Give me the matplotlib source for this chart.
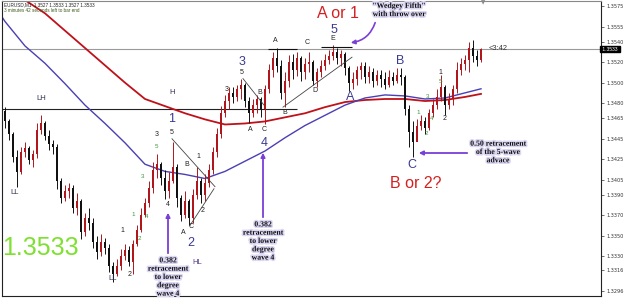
import matplotlib
matplotlib.use("agg")
import matplotlib.pyplot as plt
import matplotlib.patheffects as pe
import numpy as np

# EURUSD M1 candles
first_open = 1.3472
closes = [1.3462, 1.3450, 1.3427, 1.3412, 1.3432, 1.3436, 1.3424, 1.3430, 1.3454, 1.3460,
          1.3448, 1.3440, 1.3437, 1.3404, 1.3387, 1.3394, 1.3397, 1.3377, 1.3384, 1.3354,
          1.3367, 1.3362, 1.3344, 1.3334, 1.3344, 1.3338, 1.3320, 1.3312, 1.3320, 1.3330,
          1.3336, 1.3324, 1.3342, 1.3356, 1.3370, 1.3382, 1.3397, 1.3414, 1.3420, 1.3407,
          1.3394, 1.3404, 1.3417, 1.3387, 1.3370, 1.3384, 1.3367, 1.3390, 1.3404, 1.3390,
          1.3402, 1.3414, 1.3432, 1.3450, 1.3470, 1.3482, 1.3490, 1.3486, 1.3494, 1.3498,
          1.3482, 1.3470, 1.3478, 1.3484, 1.3474, 1.3494, 1.3512, 1.3524, 1.3516, 1.3490,
          1.3502, 1.3520, 1.3512, 1.3524, 1.3510, 1.3518, 1.3520, 1.3502, 1.3510, 1.3516,
          1.3522, 1.3526, 1.3530, 1.3524, 1.3528, 1.3514, 1.3500, 1.3504, 1.3512, 1.3516,
          1.3506, 1.3510, 1.3502, 1.3508, 1.3504, 1.3498, 1.3506, 1.3502, 1.3508, 1.3506,
          1.3474, 1.3452, 1.3442, 1.3458, 1.3462, 1.3456, 1.3470, 1.3478, 1.3486, 1.3496,
          1.3478, 1.3484, 1.3494, 1.3512, 1.3518, 1.3522, 1.3534, 1.3526, 1.3522, 1.3533]
highs = [1.3476, 1.3464, 1.3452, 1.3434, 1.3437, 1.3442, 1.3438, 1.3434, 1.3460, 1.3468,
         1.3462, 1.3454, 1.3444, 1.3440, 1.3407, 1.3400, 1.3402, 1.3400, 1.3392, 1.3386,
         1.3372, 1.3377, 1.3367, 1.3350, 1.3352, 1.3348, 1.3342, 1.3324, 1.3327, 1.3337,
         1.3342, 1.3340, 1.3346, 1.3360, 1.3377, 1.3387, 1.3404, 1.3422, 1.3430, 1.3422,
         1.3414, 1.3412, 1.3442, 1.3420, 1.3390, 1.3394, 1.3386, 1.3396, 1.3417, 1.3407,
         1.3410, 1.3420, 1.3437, 1.3456, 1.3477, 1.3488, 1.3496, 1.3496, 1.3498, 1.3504,
         1.3500, 1.3486, 1.3484, 1.3488, 1.3486, 1.3498, 1.3518, 1.3530, 1.3534, 1.3522,
         1.3510, 1.3527, 1.3528, 1.3530, 1.3526, 1.3524, 1.3530, 1.3522, 1.3514, 1.3522,
         1.3528, 1.3532, 1.3537, 1.3534, 1.3532, 1.3530, 1.3516, 1.3510, 1.3516, 1.3520,
         1.3520, 1.3516, 1.3514, 1.3512, 1.3512, 1.3510, 1.3512, 1.3510, 1.3514, 1.3514,
         1.3508, 1.3478, 1.3462, 1.3464, 1.3468, 1.3466, 1.3474, 1.3484, 1.3494, 1.3508,
         1.3498, 1.3490, 1.3498, 1.3520, 1.3524, 1.3527, 1.3540, 1.3542, 1.3532, 1.3534]
lows = [1.3456, 1.3444, 1.3422, 1.3398, 1.3410, 1.3427, 1.3420, 1.3417, 1.3426, 1.3450,
        1.3444, 1.3434, 1.3430, 1.3396, 1.3382, 1.3384, 1.3387, 1.3372, 1.3370, 1.3347,
        1.3350, 1.3356, 1.3338, 1.3327, 1.3330, 1.3332, 1.3314, 1.3305, 1.3310, 1.3316,
        1.3326, 1.3320, 1.3312, 1.3340, 1.3354, 1.3368, 1.3378, 1.3392, 1.3407, 1.3400,
        1.3386, 1.3387, 1.3402, 1.3378, 1.3364, 1.3367, 1.3360, 1.3362, 1.3386, 1.3382,
        1.3384, 1.3398, 1.3410, 1.3427, 1.3446, 1.3466, 1.3474, 1.3480, 1.3482, 1.3484,
        1.3476, 1.3460, 1.3466, 1.3470, 1.3466, 1.3459, 1.3490, 1.3506, 1.3510, 1.3484,
        1.3476, 1.3496, 1.3504, 1.3507, 1.3502, 1.3504, 1.3510, 1.3498, 1.3496, 1.3506,
        1.3512, 1.3518, 1.3522, 1.3518, 1.3516, 1.3508, 1.3492, 1.3494, 1.3498, 1.3504,
        1.3500, 1.3500, 1.3496, 1.3498, 1.3496, 1.3494, 1.3496, 1.3498, 1.3500, 1.3498,
        1.3468, 1.3437, 1.3427, 1.3444, 1.3454, 1.3450, 1.3454, 1.3466, 1.3474, 1.3482,
        1.3468, 1.3474, 1.3478, 1.3490, 1.3508, 1.3512, 1.3510, 1.3520, 1.3516, 1.3520]

# moving averages, sampled along the bars
blue_pos = [-1, 0, 5, 10, 15, 20, 25, 30, 35, 40, 45, 50, 55, 60, 65, 70, 75, 80, 85, 90,
            95, 100, 105, 110, 115, 119]
blue_ma = [1.3566, 1.3560, 1.3536, 1.3519, 1.3499, 1.3478, 1.3460, 1.3441, 1.3420, 1.3413,
           1.3410, 1.3406, 1.3413, 1.3423, 1.3433, 1.3446, 1.3458, 1.3468, 1.3478, 1.3485,
           1.3488, 1.3487, 1.3484, 1.3485, 1.3490, 1.3494]
red_pos = [4, 5, 10, 15, 20, 25, 30, 35, 40, 45, 50, 55, 60, 65, 70, 75, 80, 85, 90,
           95, 100, 105, 110, 115, 119]
red_ma = [1.3585, 1.3581, 1.3568, 1.3551, 1.3534, 1.3517, 1.3500, 1.3484, 1.3477, 1.3470,
          1.3464, 1.3459, 1.3460, 1.3462, 1.3466, 1.3470, 1.3476, 1.3481, 1.3483, 1.3484,
          1.3484, 1.3482, 1.3483, 1.3486, 1.3489]

last_price = 1.3533
lh_level = 1.3474
price_ticks = [1.3575, 1.3555, 1.3540, 1.3520, 1.3500, 1.3480, 1.3465, 1.3445, 1.3425,
               1.3405, 1.3390, 1.3370, 1.3350, 1.3330, 1.3316, 1.3296]

# hand drawn trend lines (bar index, price)
trend_lines = [
    [(41.75, 1.3445), (52.5, 1.3398)],
    [(46.25, 1.3360), (52.25, 1.3396)],
    [(59.5, 1.3504), (64.75, 1.3478)],
    [(69.5, 1.3476), (86.75, 1.3525)],
]
black_levels = [((65.75, 73.0), 1.3533), ((79.0, 86.75), 1.3535)]

W, H = 625, 298
fig = plt.figure(figsize=(W / 100, H / 100), dpi=100)
ax = fig.add_axes([2 / W, 2 / H, 599 / W, 295 / H])
ax.set_xlim(-0.75, 149)
ax.set_ylim(1.32908, 1.35801)

o = np.array([first_open] + closes[:-1])
c = np.array(closes)
idx = np.arange(len(c))
up = c >= o
col = np.where(up, "#b0161c", "#111111")
ax.vlines(idx, lows, highs, colors=col, lw=0.7, zorder=3)
ax.bar(idx, np.where(np.abs(c - o) < 0.00008, 0.00008, c - o), bottom=o, width=0.6,
       color=col, zorder=3)

ax.plot(red_pos, red_ma, color="#c0101a", lw=1.3, zorder=2)
ax.plot(blue_pos, blue_ma, color="#4a3fb5", lw=1.0, zorder=2)

ax.axhline(last_price, color="#9a9a9a", lw=0.8, zorder=1)
ax.hlines(lh_level, -1.25, 73, color="#222222", lw=0.8, zorder=1)
for (x0, x1), lvl in black_levels:
    ax.hlines(lvl, x0, x1, color="#111111", lw=0.8, zorder=4)
for (a, b) in trend_lines:
    ax.plot([a[0], b[0]], [a[1], b[1]], color="#444444", lw=0.6, zorder=4)

ax.yaxis.tick_right()
ax.set_yticks(price_ticks)
ax.set_yticklabels([f"{t:.4f}" for t in price_ticks])
ax.tick_params(axis="y", labelsize=3.6, length=2, width=0.5, pad=2, colors="#333333")
ax.set_xticks([])
for s in ax.spines.values():
    s.set_color("#222222")
    s.set_linewidth(0.8)
ax.spines["top"].set_color("#888888")

def fp(xp, yp):
    return (xp / W, 1 - yp / H)

def put(xp, yp, s, **kw):
    fig.text(xp / W, 1 - yp / H, s, ha="center", va="center", **kw)

# price tag on the axis
ax.text(1.0, last_price, " 1.3533 ", transform=ax.get_yaxis_transform(), fontsize=3.6,
        color="white", va="center", ha="left", family="Liberation Sans",
        bbox=dict(facecolor="black", edgecolor="black", pad=0.6), zorder=6)
put(498, 49, "<3:42", fontsize=5.4, color="#333333", family="Liberation Sans")

fig.text(4 / W, 1 - 5 / H, "EURUSD,M1  1.3527 1.3533 1.3527 1.3533", fontsize=3.3,
         color="#222222", ha="left", va="center", family="Liberation Sans")
fig.text(4 / W, 1 - 11 / H, "3 minutes 42 seconds left to bar end", fontsize=3.3,
         color="#3d5a1a", ha="left", va="center", family="Liberation Sans")

sans = "Liberation Sans"
put(40, 248, "1.3533", fontsize=18, color="#7ee030", family=sans)
put(338, 13, "A or 1", fontsize=11.5, color="#d42020", family=sans)
put(416, 183, "B or 2?", fontsize=11.5, color="#d42020", family=sans)

blue_labels = [(334, 30, "5"), (242, 62, "3"), (172, 119, "1"), (191, 243, "2"),
               (264, 143, "4"), (400, 61, "B"), (412, 165, "C"), (350, 97, "A")]
for xp, yp, s in blue_labels:
    put(xp, yp, s, fontsize=9, color="#3a3a92", family=sans)

small_labels = [(275, 41, "A"), (307, 43, "C"), (333, 39, "E"), (285, 113, "B"),
                (315, 90, "D"), (250, 130, "A"), (264, 130, "C"), (227, 89, "3"),
                (242, 73, "5"), (260, 92, "B"), (157, 134, "3"), (172, 132, "5"),
                (187, 165, "B"), (198, 157, "1"), (168, 205, "4"), (183, 233, "A"),
                (191, 226, "C"), (203, 210, "2"), (122, 230, "1"), (130, 274, "2"),
                (440, 73, "1"), (445, 119, "2")]
for xp, yp, s in small_labels:
    put(xp, yp, s, fontsize=5, color="#222222", family=sans)

green_labels = [(156, 146, "5"), (143, 177, "3"), (133, 215, "1"), (147, 216, "4"),
                (139, 238, "2"), (440, 82, "5"), (428, 96, "3"), (418, 113, "1"),
                (426, 133, "2"), (432, 119, "4")]
for xp, yp, s in green_labels:
    put(xp, yp, s, fontsize=4.5, color="#3c9a3c", family=sans)

swing_labels = [(15, 193, "LL"), (41, 99, "LH"), (172, 92, "H"), (113, 279, "LL")]
for xp, yp, s in swing_labels:
    put(xp, yp, s, fontsize=5.5, color="#333355", family=sans)
put(197, 262, "HL", fontsize=5.5, color="#553a88", family=sans)

# notes with arrows
purple = "#7a3fd6"
glow = [pe.withStroke(linewidth=2.2, foreground="#dcd8f4")]
note = dict(fontsize=5.6, fontweight="bold", family="Liberation Serif", color="#111111",
            path_effects=glow, linespacing=1.05)

for xp, y_top, y_tail, y_txt in [(263, 150, 220, 241), (168, 210, 256, 277)]:
    ax.annotate("", xy=fp(xp, y_top), xytext=fp(xp, y_tail), xycoords="figure fraction",
                textcoords="figure fraction",
                arrowprops=dict(arrowstyle="-|>", color=purple, lw=1.3, mutation_scale=6))
    put(xp, y_txt, "0.382\nretracement\nto lower\ndegree\nwave 4", **note)

ax.annotate("", xy=fp(416, 153), xytext=fp(470, 153), xycoords="figure fraction",
            textcoords="figure fraction",
            arrowprops=dict(arrowstyle="-|>", color=purple, lw=1.3, mutation_scale=6))
put(498, 152, "0.50 retracement\nof the 5-wave\nadvace", **note)

ax.annotate("", xy=fp(348, 43), xytext=fp(376, 20), xycoords="figure fraction",
            textcoords="figure fraction",
            arrowprops=dict(arrowstyle="-|>", color=purple, lw=1.2, mutation_scale=6,
                            connectionstyle="arc3,rad=-0.35"))
put(399, 10, "\"Wedgey Fifth\"\nwith throw over", **note)

fig.text(483 / W, 1 - 3 / H, "\u25bc", fontsize=4, color="#888888", ha="center", va="center")

fig.savefig("out.png", dpi=100)
